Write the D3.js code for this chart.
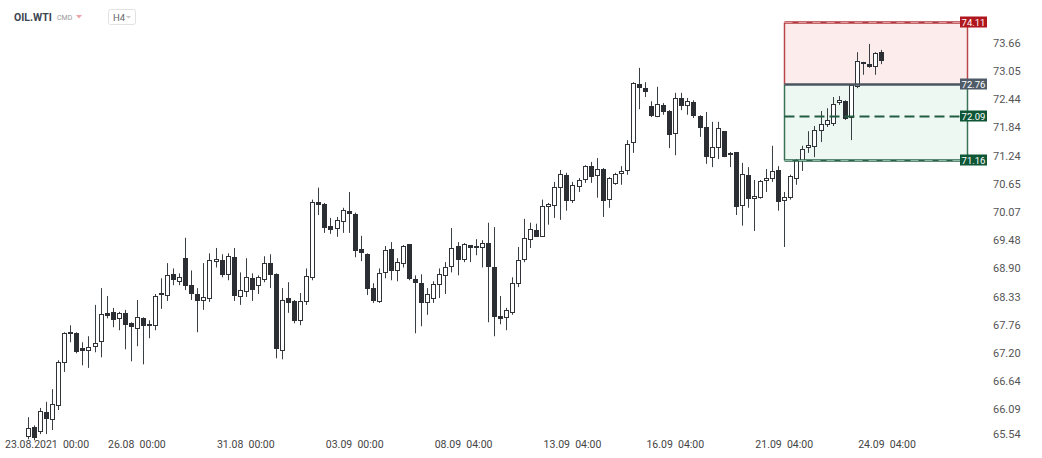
<!DOCTYPE html>
<html><head><meta charset="utf-8">
<script src="https://cdn.jsdelivr.net/npm/d3@7"></script>
<style>
body{margin:0;background:#fff;}
svg{display:block;font-family:Roboto,"Liberation Sans",Arial,sans-serif;}
</style>
</head><body>
<svg id="chart" width="1042" height="458"></svg>
<script>
// ---- data ----
const opens  = [65.54,65.74,65.64,66.03,65.87,66.15,66.99,67.57,67.59,67.29,67.23,67.31,67.41,68.00,68.02,67.87,68.00,67.79,67.67,67.89,67.73,67.73,68.40,68.34,68.78,68.62,69.11,68.56,68.38,68.24,68.28,69.03,69.07,68.76,69.13,68.32,68.42,68.70,68.54,68.66,69.01,68.78,67.23,68.30,68.24,67.83,68.22,68.70,70.27,70.23,69.78,69.71,69.86,70.09,70.02,69.30,69.19,68.50,68.22,68.80,69.30,68.84,68.99,69.40,68.68,68.60,68.20,68.28,68.56,68.74,68.92,69.36,69.07,69.38,69.32,69.32,69.42,68.92,67.93,67.89,68.00,68.58,69.07,69.48,69.69,69.55,70.17,70.19,70.57,70.84,70.30,70.59,70.73,71.02,70.81,70.96,70.32,70.65,70.86,70.92,71.51,72.77,72.68,72.30,72.06,72.32,72.19,71.70,72.47,72.30,72.38,72.08,71.85,71.19,71.40,71.76,71.25,71.32,70.19,70.84,70.34,70.36,70.71,70.75,70.94,70.30,70.36,70.75,71.13,71.40,71.42,71.76,71.89,71.91,72.36,72.40,72.04,72.70,73.25,73.20,73.14,73.46];
const highs  = [65.93,65.77,66.11,66.23,66.48,67.05,67.61,67.75,67.61,67.41,67.53,68.16,68.50,68.34,68.10,68.02,68.06,67.81,68.26,67.91,67.85,68.38,68.70,69.01,68.90,68.80,69.53,68.86,68.50,69.01,69.21,69.32,69.19,69.21,69.32,68.82,69.11,68.80,68.76,69.15,69.19,68.80,68.50,68.62,68.26,68.40,68.90,70.32,70.57,70.25,69.94,69.96,70.15,70.48,70.05,69.57,69.21,68.60,68.90,69.36,69.44,69.11,69.38,69.40,68.76,68.78,68.50,68.64,68.90,69.03,69.73,69.44,69.42,69.38,69.50,69.48,69.84,69.75,68.34,68.10,68.72,69.34,69.92,69.84,69.82,70.32,70.25,70.69,70.94,70.88,70.69,70.77,71.04,71.11,71.19,70.98,70.79,70.88,71.02,71.57,72.81,73.12,72.81,72.40,72.71,72.36,72.21,72.58,72.58,72.47,72.42,72.10,72.17,71.96,71.96,71.76,71.32,71.32,71.09,71.00,70.73,70.73,70.96,71.45,71.02,70.48,70.84,71.17,71.45,71.76,71.87,72.19,72.25,72.49,72.51,72.42,72.75,73.46,73.25,73.64,73.46,73.51];
const lows   = [65.50,65.48,65.60,65.60,65.68,66.07,66.82,67.41,67.19,66.95,66.90,67.21,67.11,67.89,67.71,67.65,67.27,67.03,67.33,66.97,67.49,67.65,68.08,68.24,68.56,68.56,68.46,68.26,67.61,68.06,68.22,68.92,68.72,68.66,68.24,68.16,68.32,68.24,68.38,68.62,68.50,67.09,67.07,68.00,67.79,67.75,68.16,68.66,70.00,69.63,69.61,69.55,69.63,69.63,69.13,69.05,68.36,68.20,68.20,68.70,68.66,68.64,68.92,68.66,67.59,67.73,67.96,68.20,68.30,68.38,68.82,68.76,69.03,69.03,69.17,68.92,67.81,67.53,67.77,67.65,67.96,68.52,69.03,69.32,69.55,69.55,69.80,69.94,69.90,70.09,70.25,70.48,70.67,70.67,70.36,69.96,70.15,70.63,70.63,70.84,71.30,72.23,72.49,72.06,72.06,72.11,71.40,71.25,72.21,72.11,72.04,71.64,71.07,71.00,71.17,71.21,71.00,70.00,69.78,70.15,69.67,70.34,70.48,70.69,70.09,69.34,70.32,70.63,70.92,71.30,71.21,71.53,71.85,71.87,72.32,72.00,71.57,72.68,72.97,73.12,72.97,73.20];
const closes = [65.72,65.52,66.05,65.89,66.19,67.01,67.59,67.61,67.21,67.23,67.31,67.39,67.98,67.93,67.85,68.00,67.75,67.71,67.91,67.73,67.77,68.34,68.38,68.76,68.66,68.72,68.54,68.38,68.24,68.32,69.07,69.09,68.76,69.15,68.34,68.46,68.72,68.46,68.72,69.01,68.76,67.27,68.26,68.20,67.83,68.24,68.74,70.27,70.21,69.73,69.69,69.90,70.11,70.02,69.26,69.21,68.48,68.24,68.80,69.28,68.84,69.03,69.36,68.68,68.60,68.20,68.38,68.58,68.78,68.92,69.32,69.07,69.40,69.32,69.36,69.42,68.92,67.91,67.87,68.06,68.60,69.07,69.53,69.71,69.55,70.19,70.23,70.59,70.86,70.30,70.63,70.73,71.02,70.79,70.96,70.30,70.77,70.86,70.92,71.49,72.79,72.68,72.60,72.08,72.34,72.17,71.68,72.47,72.30,72.40,72.08,71.83,71.21,71.42,71.83,71.21,71.30,70.17,70.86,70.34,70.40,70.71,70.77,70.92,70.27,70.38,70.81,71.15,71.38,71.47,71.79,71.91,72.00,72.34,72.42,72.02,72.75,73.27,73.20,73.14,73.44,73.27];

const yTickValues = [73.66,73.05,72.44,71.84,71.24,70.65,70.07,69.48,68.90,68.33,67.76,67.20,66.64,66.09,65.54];
const xTickIndex  = [0,18,36,54,72,90,107,125,142];
const xTickLabels = ["23.08.2021  00:00","26.08  00:00","31.08  00:00","03.09  00:00","08.09  04:00","13.09  04:00","16.09  04:00","21.09  04:00","24.09  04:00"];

// position tool (long): take profit, entry, mid, stop loss
const levelValues = [74.11,72.76,72.09,71.16];
const levelNames  = ["74.11","72.76","72.09","71.16"];
const boxSpan     = [125,155.2]; // candle index range covered by the tool

// ---- layout ----
const svg = d3.select("#chart");
const x = d3.scaleLinear().domain([0, opens.length-1]).range([28, 881]);
const y = d3.scaleLog().domain([66.09, 73.66]).range([409, 43]);

const candles = opens.map((o,i)=>({i,o,h:highs[i],l:lows[i],c:closes[i]}));

// ---- position tool (fills under candles) ----
const bx0 = Math.round(x(boxSpan[0]))+0.5, bx1 = Math.round(x(boxSpan[1]))+0.5;
const yTP = Math.round(y(levelValues[0]))+0.5, yEn = Math.round(y(levelValues[1]))+0.5,
      yMid = Math.round(y(levelValues[2]))+0.5, ySL = Math.round(y(levelValues[3]))+0.5;
const tool = svg.append("g");
tool.append("rect").attr("x",bx0).attr("y",yTP).attr("width",bx1-bx0).attr("height",yEn-yTP).attr("fill","#fdecec");
tool.append("rect").attr("x",bx0).attr("y",yEn).attr("width",bx1-bx0).attr("height",ySL-yEn).attr("fill","#eef8f2");

// ---- candles ----
const cg = svg.append("g");
candles.forEach(d=>{
  const cx = Math.round(x(d.i));
  const up = d.c >= d.o;
  cg.append("line").attr("x1",cx+0.5).attr("x2",cx+0.5)
    .attr("y1",y(d.h)).attr("y2",y(d.l)).attr("stroke","#3a3f44").attr("stroke-width",1);
  const yt = Math.round(y(Math.max(d.o,d.c))), yb = Math.round(y(Math.min(d.o,d.c)));
  const hgt = Math.max(yb-yt, 2);
  if(up){
    cg.append("rect").attr("x",cx-1.5).attr("y",yt+0.5).attr("width",4).attr("height",Math.max(hgt-1,1))
      .attr("fill","#fff").attr("stroke","#2f3338").attr("stroke-width",1);
  } else {
    cg.append("rect").attr("x",cx-2).attr("y",yt).attr("width",5).attr("height",hgt)
      .attr("fill","#2b2f33");
  }
});

// ---- tool lines on top of candles ----
const lines = svg.append("g");
[bx0,bx1].forEach(bx=>{
  lines.append("line").attr("x1",bx).attr("x2",bx).attr("y1",yTP).attr("y2",yEn).attr("stroke","#b8464b").attr("stroke-width",1.5);
  lines.append("line").attr("x1",bx).attr("x2",bx).attr("y1",yEn).attr("y2",ySL).attr("stroke","#3a7258").attr("stroke-width",1.5);
});
lines.append("line").attr("x1",bx0).attr("x2",bx1).attr("y1",yTP).attr("y2",yTP).attr("stroke","#b03a3f").attr("stroke-width",2.5);
lines.append("line").attr("x1",bx0).attr("x2",bx1).attr("y1",yTP).attr("y2",yTP).attr("stroke","#e39a9d").attr("stroke-width",1).attr("stroke-dasharray","8,6");
lines.append("line").attr("x1",bx0).attr("x2",bx1).attr("y1",yEn).attr("y2",yEn).attr("stroke","#4b555e").attr("stroke-width",2.5);
lines.append("line").attr("x1",bx0).attr("x2",bx1).attr("y1",yMid).attr("y2",yMid).attr("stroke","#235d44").attr("stroke-width",2).attr("stroke-dasharray","10,5");
lines.append("line").attr("x1",bx0).attr("x2",bx1).attr("y1",ySL).attr("y2",ySL).attr("stroke","#2a6349").attr("stroke-width",2.5);
lines.append("line").attr("x1",bx0).attr("x2",bx1).attr("y1",ySL).attr("y2",ySL).attr("stroke","#8fbba6").attr("stroke-width",1).attr("stroke-dasharray","8,6");

// level labels
const labelFill = ["#b0161d","#4f5b66","#0e5636","#0e5636"];
levelValues.forEach((v,k)=>{
  const yy = Math.round(y(v));
  const g = svg.append("g");
  g.append("rect").attr("x",960).attr("y",yy-5.5).attr("width",27).attr("height",11).attr("fill",labelFill[k]);
  g.append("text").attr("x",973.5).attr("y",yy+3.5).attr("text-anchor","middle").attr("fill","#fff")
    .attr("font-size",9.5).text(levelNames[k]);
});

// ---- right axis ----
const ya = svg.append("g");
yTickValues.forEach(v=>{
  const yy = Math.min(y(v), 434);
  ya.append("text").attr("x",993).attr("y",yy+4).attr("fill","#555").attr("font-size",11).text(v.toFixed(2));
});

// ---- bottom axis ----
const xa = svg.append("g");
xTickIndex.forEach((ix,k)=>{
  const t = xa.append("text").attr("x",x(ix)).attr("y",448).attr("text-anchor","middle")
    .attr("fill","#444").attr("font-size",10.5).style("white-space","pre").text(xTickLabels[k]);
  const bb = t.node().getBBox();
  if(bb.x < 5){ t.attr("text-anchor","start").attr("x",5); }
});

// ---- header ----
const hd = svg.append("g");
hd.append("text").attr("x",14).attr("y",21).attr("font-size",10.5).attr("font-weight","bold").attr("fill","#3d4450").text("OIL.WTI");
hd.append("text").attr("x",57).attr("y",20).attr("font-size",7).attr("fill","#9a9a9a").text("CMD");
hd.append("path").attr("d","M76,15 L82,15 L79,18.5 Z").attr("fill","#e9a2a8");
hd.append("rect").attr("x",108.5).attr("y",9.5).attr("width",27).attr("height",15).attr("rx",2).attr("fill","#fff").attr("stroke","#e2e2e2");
hd.append("text").attr("x",113).attr("y",20.5).attr("font-size",9.5).attr("fill","#666").text("H4");
hd.append("path").attr("d","M126,16 L131,16 L128.5,18.5 Z").attr("fill","#c8c8c8");
</script>
</body></html>
